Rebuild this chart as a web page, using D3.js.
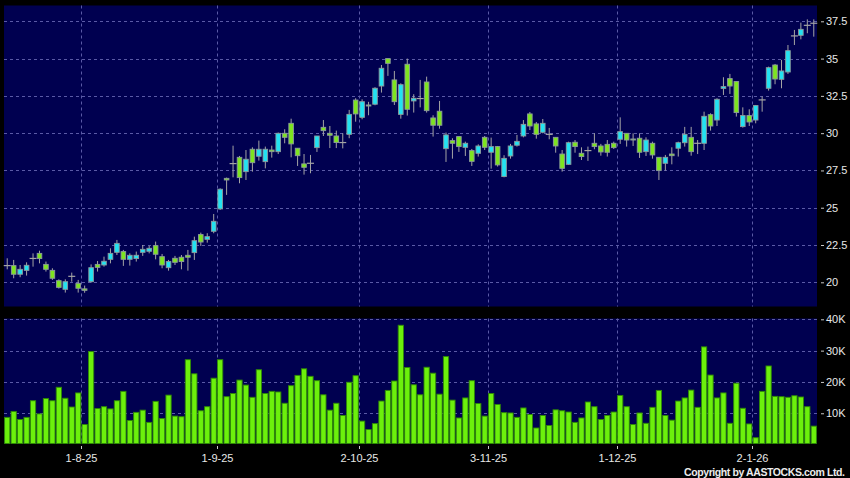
<!DOCTYPE html>
<html><head><meta charset="utf-8">
<script src="https://cdn.jsdelivr.net/npm/d3@7"></script>
<style>html,body{margin:0;padding:0;background:#000;} svg{display:block;}</style>
</head><body>
<svg id="c" width="850" height="478"></svg>
<script>
const dates = [
"2025-07-16","2025-07-17","2025-07-18","2025-07-21","2025-07-22","2025-07-23","2025-07-24","2025-07-25","2025-07-28","2025-07-29","2025-07-30","2025-07-31",
"2025-08-01","2025-08-04","2025-08-05","2025-08-06","2025-08-07","2025-08-08","2025-08-11","2025-08-12","2025-08-13","2025-08-14","2025-08-15","2025-08-18","2025-08-19","2025-08-20","2025-08-21","2025-08-22","2025-08-25","2025-08-26","2025-08-27","2025-08-28","2025-08-29",
"2025-09-01","2025-09-02","2025-09-03","2025-09-04","2025-09-05","2025-09-08","2025-09-09","2025-09-10","2025-09-11","2025-09-12","2025-09-15","2025-09-16","2025-09-17","2025-09-18","2025-09-19","2025-09-22","2025-09-23","2025-09-24","2025-09-25","2025-09-26","2025-09-29","2025-09-30",
"2025-10-02","2025-10-03","2025-10-06","2025-10-08","2025-10-09","2025-10-10","2025-10-13","2025-10-14","2025-10-15","2025-10-16","2025-10-17","2025-10-20","2025-10-21","2025-10-22","2025-10-23","2025-10-24","2025-10-27","2025-10-28","2025-10-30","2025-10-31",
"2025-11-03","2025-11-04","2025-11-05","2025-11-06","2025-11-07","2025-11-10","2025-11-11","2025-11-12","2025-11-13","2025-11-14","2025-11-17","2025-11-18","2025-11-19","2025-11-20","2025-11-21","2025-11-24","2025-11-25","2025-11-26","2025-11-27","2025-11-28",
"2025-12-01","2025-12-02","2025-12-03","2025-12-04","2025-12-05","2025-12-08","2025-12-09","2025-12-10","2025-12-11","2025-12-12","2025-12-15","2025-12-16","2025-12-17","2025-12-18","2025-12-19","2025-12-22","2025-12-23","2025-12-24","2025-12-29","2025-12-30","2025-12-31",
"2026-01-02","2026-01-05","2026-01-06","2026-01-07","2026-01-08","2026-01-09","2026-01-12","2026-01-13","2026-01-14","2026-01-15"];

const open = [21.12,21.12,20.54,20.8,21.6,21.94,21.2,20.8,20.11,19.53,20.4,19.93,
19.56,20.04,21.2,21.16,21.54,22.01,22.06,21.54,21.59,22.01,22.08,22.46,21.72,20.98,21.61,21.68,21.81,21.99,23.2,22.88,23.42,
24.92,26.97,27.96,28.38,27.42,28.92,28.45,28.09,28.87,28.76,29.99,30.66,28.99,27.94,27.98,29.03,30.39,29.99,29.81,29.37,29.92,
32.22,31.06,31.89,31.94,33.16,35.0,33.57,31.26,34.62,32.16,32.32,33.43,31.02,31.47,28.96,29.5,29.77,29.05,28.83,28.65,29.72,
28.72,29.1,27.09,28.47,29.19,29.81,31.29,30.62,30.06,29.92,29.72,28.6,27.91,29.39,28.65,28.83,29.32,29.14,29.25,29.32,
29.59,29.99,29.61,29.66,28.76,29.32,28.38,27.98,28.6,28.99,29.36,29.72,29.32,29.32,31.24,30.88,33.0,33.66,33.46,30.44,31.18,
30.88,32.23,33.01,34.57,33.61,34.1,36.52,36.56,37.23,37.37];
const high = [21.61,21.5,21.16,21.34,21.94,22.12,21.39,20.94,20.2,20.2,20.65,20.16,
19.78,21.2,21.43,21.72,22.28,22.84,22.17,21.94,22.06,22.5,22.44,22.73,21.9,21.5,21.77,21.83,22.17,23.06,23.33,23.29,24.58,
26.3,27.02,29.16,28.47,28.87,29.05,29.5,29.1,29.16,30.04,30.26,30.97,28.99,28.6,28.54,29.81,30.88,30.48,30.17,29.99,31.56,
32.34,32.27,32.1,33.08,34.57,35.0,34.17,33.34,35.0,32.61,33.57,33.79,31.2,32.16,30.04,29.66,29.77,29.43,28.94,29.25,29.81,
29.7,29.14,28.52,29.28,29.88,30.88,31.42,30.75,30.95,30.35,29.72,28.87,29.43,29.54,29.05,29.1,29.99,29.28,29.54,29.43,
31.06,29.99,29.99,29.99,29.72,29.43,28.38,28.54,29.05,29.43,30.42,30.42,29.54,31.44,31.33,32.34,33.75,33.97,33.46,31.73,31.6,
31.89,32.45,34.46,34.64,34.91,35.91,36.92,37.41,37.63,37.63];
const low = [20.87,20.27,20.34,20.45,21.05,21.27,20.72,20.16,19.58,19.31,20.04,19.31,
19.3,19.98,20.72,21.05,21.27,21.83,21.1,21.12,21.39,21.77,21.94,21.54,20.94,20.78,21.16,20.87,20.78,21.5,22.44,22.66,23.29,
24.85,25.86,27.04,26.64,26.86,27.42,28.16,27.64,28.36,28.6,29.32,28.38,27.8,27.22,27.31,28.74,29.81,29.0,29.0,28.98,29.66,
30.77,30.93,31.2,31.87,32.72,33.84,31.89,30.97,31.18,31.38,31.73,31.38,29.77,30.3,28.07,28.29,28.74,28.47,27.8,28.43,28.87,
27.62,27.76,27.04,28.29,29.1,29.72,30.21,29.63,29.99,29.59,28.69,27.42,27.87,28.69,28.2,28.14,28.92,28.49,28.43,28.94,
29.28,29.1,29.14,28.34,28.47,28.29,26.86,27.49,27.91,28.43,29.1,28.49,28.6,28.87,30.17,30.48,32.56,32.63,31.11,30.37,30.48,
30.66,31.44,32.85,33.28,33.01,33.97,35.91,36.29,36.7,36.47];
const close = [21.12,20.54,20.87,21.14,21.6,21.59,20.87,20.27,19.66,20.04,20.4,19.6,
19.46,20.98,21.0,21.41,21.94,22.61,21.54,21.81,21.81,22.21,22.28,21.88,21.16,21.39,21.34,21.39,21.68,22.79,22.7,23.06,24.09,
26.24,26.86,27.96,27.02,28.25,28.02,28.92,28.92,28.76,29.99,29.72,29.28,28.49,27.71,27.98,29.81,30.17,29.86,29.37,29.37,31.26,
31.29,32.11,31.82,33.01,34.35,34.68,32.11,33.25,31.6,32.34,32.32,31.51,30.53,30.53,29.88,29.32,29.1,29.32,28.11,29.14,29.05,
29.1,27.87,28.31,29.14,29.45,30.59,30.48,29.92,30.66,29.92,29.14,27.64,29.36,29.1,28.43,28.83,29.1,28.74,28.72,29.03,
30.1,29.54,29.54,28.72,29.54,28.54,27.49,28.38,28.49,29.36,29.92,28.76,29.32,31.13,30.48,32.27,33.12,33.16,31.38,31.18,30.75,
31.85,32.23,34.39,33.63,34.17,35.53,36.52,36.96,37.23,37.37];
const volume = [8700,10600,8000,8700,14000,9800,14700,14000,18300,14800,12000,16500,
6400,29700,11500,12100,11400,14000,17000,7700,10300,11000,7100,13800,8300,15800,9100,8900,27100,22600,10800,12100,21200,
27100,15300,16300,20600,19000,15100,23900,16300,17000,16800,13200,18800,22100,24200,21800,20400,15900,11000,13200,9300,19900,
22000,7500,4800,6700,13900,17300,20300,38100,24600,19100,15900,24700,22800,16100,28100,14200,8500,14900,20400,13100,9100,
16300,12800,10200,10100,8700,11700,9600,5300,9300,6100,11100,10800,10400,7100,8500,13600,12100,8000,9300,10400,
15700,12100,6400,10100,6800,11900,17300,9300,7800,13900,14900,17400,11900,31200,22200,14900,16500,6800,19600,11600,6600,
2200,17000,25100,15400,15300,15100,15600,15200,12100,5900];

const tickDates = ["2025-08-01","2025-09-01","2025-10-02","2025-11-03","2025-12-01","2026-01-02"];
const tickLabels = ["1-8-25","1-9-25","2-10-25","3-11-25","1-12-25","2-1-26"];
const priceTicks = [20,22.5,25,27.5,30,32.5,35,37.5];
const volumeTicks = [10000,20000,30000,40000];

const NAVY = "#000050", GRID = "#5a5aa6", CYAN = "#22e2f2", GREEN = "#7ee420", WICK = "#a4a4a4";
const svg = d3.select("#c");
const L = 4, R = 817;
const P = {top: 5.5, bottom: 306.5};
const V = {top: 318.5, bottom: 443.5};

const x = d3.scaleBand().domain(dates).range([L, R]).padding(0);
const bw = x.bandwidth();
const yP = d3.scaleLinear().domain([20, 37.5]).range([282.3, 21.3]);
const yV = d3.scaleLinear().domain([0, 40000]).range([444.6, 319.3]);

svg.append("rect").attr("width", 850).attr("height", 478).attr("fill", "#000");
svg.append("rect").attr("x", L).attr("y", P.top).attr("width", R - L).attr("height", P.bottom - P.top).attr("fill", NAVY);
svg.append("rect").attr("x", L).attr("y", V.top).attr("width", R - L).attr("height", V.bottom - V.top).attr("fill", NAVY);

const crisp = v => Math.round(v) + 0.5;
const gridG = svg.append("g").attr("stroke", GRID).attr("stroke-width", 1).attr("stroke-dasharray", "3,3");
gridG.selectAll(".hp").data(priceTicks).join("line")
  .attr("x1", L).attr("x2", R).attr("y1", d => crisp(yP(d))).attr("y2", d => crisp(yP(d)));
gridG.selectAll(".hv").data(volumeTicks).join("line")
  .attr("x1", L).attr("x2", R).attr("y1", d => crisp(yV(d))).attr("y2", d => crisp(yV(d)));
tickDates.forEach(d => {
  const xx = crisp(x(d));
  gridG.append("line").attr("x1", xx).attr("x2", xx).attr("y1", P.top).attr("y2", P.bottom);
  gridG.append("line").attr("x1", xx).attr("x2", xx).attr("y1", V.top).attr("y2", V.bottom);
});

// candles
const cg = svg.append("g");
dates.forEach((d, i) => {
  const cx = x(d) + bw / 2;
  const o = open[i], c = close[i], h = high[i], l = low[i];
  cg.append("line").attr("x1", cx).attr("x2", cx).attr("y1", yP(h)).attr("y2", yP(l))
    .attr("stroke", WICK).attr("stroke-width", 1);
  if (o === c) {
    cg.append("line").attr("x1", cx - 3.5).attr("x2", cx + 3.5).attr("y1", yP(c)).attr("y2", yP(c))
      .attr("stroke", WICK).attr("stroke-width", 1.2);
  } else {
    const top = yP(Math.max(o, c)), bot = yP(Math.min(o, c));
    cg.append("rect").attr("x", cx - 2.3).attr("width", 4.6)
      .attr("y", top).attr("height", Math.max(1, bot - top))
      .attr("fill", c > o ? CYAN : GREEN).attr("stroke", "#8c9a9c").attr("stroke-width", 0.9);
  }
});

// volume bars
svg.append("g").selectAll("rect").data(dates).join("rect")
  .attr("x", d => x(d) + 0.6).attr("width", bw - 1.2)
  .attr("y", (d, i) => yV(volume[i])).attr("height", (d, i) => V.bottom - yV(volume[i]))
  .attr("fill", "#6cf00c").attr("stroke", "#2f8a06").attr("stroke-width", 0.9);

// right axes
const styleAxis = g => {
  g.select(".domain").remove();
  g.selectAll(".tick line").attr("stroke", "#c8c8c8");
  g.selectAll(".tick text").attr("fill", "#e8e8e8").attr("font-family", "'Liberation Sans', Arial, sans-serif").attr("font-size", 11);
};
svg.append("g").attr("transform", "translate(821,0)")
  .call(d3.axisRight(yP).tickValues(priceTicks).tickSize(3).tickPadding(2).tickFormat(d => String(d)))
  .call(styleAxis);
svg.append("g").attr("transform", "translate(821,0)")
  .call(d3.axisRight(yV).tickValues(volumeTicks).tickSize(3).tickPadding(2).tickFormat(d => (d / 1000) + "K"))
  .call(styleAxis);

// bottom axis
const xt = d3.scaleOrdinal().domain(tickDates).range(tickDates.map(d => crisp(x(d))));
const xAxis = d3.axisBottom(d3.scalePoint().domain(tickDates).range([0, 1]))
svg.append("g").attr("transform", "translate(0,445)")
  .call(g => {
    const ticks = g.selectAll("g").data(tickDates).join("g").attr("transform", d => `translate(${xt(d)},0)`);
    ticks.append("line").attr("y1", 1).attr("y2", 4).attr("stroke", "#c8c8c8");
    ticks.append("text").attr("y", 16.5).attr("text-anchor", "middle")
      .attr("fill", "#e8e8e8").attr("font-family", "'Liberation Sans', Arial, sans-serif").attr("font-size", 11)
      .text((d, i) => tickLabels[i]);
  });

svg.append("text").attr("x", 845).attr("y", 476).attr("text-anchor", "end")
  .attr("fill", "#ececec").attr("font-family", "'Liberation Sans', Arial, sans-serif")
  .attr("font-size", 10.5).attr("font-weight", "bold")
  .attr("textLength", 161).attr("lengthAdjust", "spacing")
  .text("Copyright by AASTOCKS.com Ltd.");
</script>
</body></html>
